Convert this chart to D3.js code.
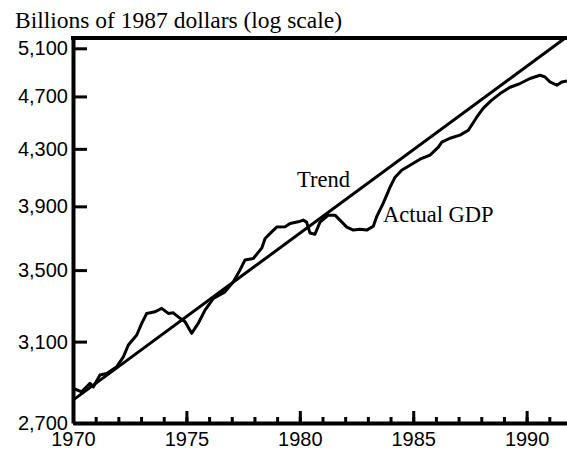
<!DOCTYPE html>
<html>
<head>
<meta charset="utf-8">
<script src="https://cdn.jsdelivr.net/npm/d3@7/dist/d3.min.js"></script>
<style>
body { margin: 0; background: #fff; }
</style>
</head>
<body>
<div id="canvas"></div>
<script>
// actual GDP (year, billions of 1987 dollars)
let years = [1970.00, 1970.38, 1970.75, 1970.90, 1971.19, 1971.49, 1971.93, 1972.22, 1972.44, 1972.81,
    1973.03, 1973.25, 1973.62, 1973.91, 1974.20, 1974.42, 1974.64, 1974.94, 1975.23, 1975.52,
    1975.82, 1976.19, 1976.70, 1977.07, 1977.36, 1977.58, 1977.95, 1978.32, 1978.47, 1978.76,
    1978.98, 1979.35, 1979.57, 1979.93, 1980.15, 1980.30, 1980.45, 1980.67, 1980.89, 1981.26,
    1981.55, 1981.77, 1982.07, 1982.36, 1982.65, 1982.95, 1983.24, 1983.40, 1983.68, 1983.98,
    1984.20, 1984.49, 1984.86, 1985.30, 1985.74, 1986.11, 1986.26, 1986.62, 1987.06, 1987.43,
    1987.80, 1988.09, 1988.46, 1988.83, 1989.27, 1989.71, 1990.15, 1990.59, 1990.81, 1991.03,
    1991.33, 1991.55, 1991.78]
let gdp = [2864, 2847, 2888, 2871, 2929, 2937, 2971, 3021, 3082, 3135,
    3197, 3252, 3261, 3280, 3252, 3255, 3233, 3206, 3144, 3197,
    3270, 3336, 3373, 3431, 3500, 3560, 3570, 3633, 3693, 3735,
    3765, 3767, 3788, 3799, 3810, 3797, 3727, 3720, 3797, 3842,
    3842, 3810, 3765, 3746, 3752, 3746, 3771, 3836, 3921, 4029,
    4098, 4147, 4182, 4225, 4254, 4312, 4349, 4378, 4401, 4438,
    4537, 4607, 4670, 4723, 4774, 4804, 4845, 4872, 4858, 4817,
    4790, 4817, 4825]

// trend line (straight on a log scale)
let trendYears = [1970, 1991.7]
let trendGdp = [2807, 5190]

let yTicks = [2700, 3100, 3500, 3900, 4300, 4700, 5100]
let xTicks = [1970, 1975, 1980, 1985, 1990]
let xMinor = d3.range(1971, 1992)

let svg = d3.select('#canvas').append('svg')
    .attr('width', 567)
    .attr('height', 450)
    .style('display', 'block')

let xScale = d3.scaleLinear()
    .domain([1970, 1991.78])
    .range([73, 567])
let yScale = d3.scaleLog()
    .domain([2700, 5190])
    .range([423, 38])

// title
svg.append('text')
    .attr('x', 15)
    .attr('y', 28)
    .style('font-family', '"Liberation Serif", "Times New Roman", serif')
    .style('font-size', '23.5px')
    .text('Billions of 1987 dollars (log scale)')

// minor year ticks on the x axis
svg.append('g')
    .attr('transform', `translate(0, ${yScale.range()[0]})`)
    .call(d3.axisBottom(xScale).tickValues(xMinor).tickSizeInner(-6).tickSizeOuter(0).tickFormat(''))
    .call(g => g.select('.domain').remove())
    .call(g => g.selectAll('line').attr('stroke-width', 3))

let xAxis = d3.axisBottom(xScale)
    .tickValues(xTicks)
    .tickSizeInner(-12)
    .tickSizeOuter(0)
    .tickPadding(9)
    .tickFormat(d3.format('d'))
let yAxis = d3.axisLeft(yScale)
    .tickValues(yTicks)
    .tickSizeInner(-14)
    .tickSizeOuter(0)
    .tickPadding(5)
    .tickFormat(d3.format(','))

svg.append('g').attr('class', 'axis')
    .attr('transform', `translate(0, ${yScale.range()[0]})`)
    .call(xAxis)

svg.append('g').attr('class', 'axis')
    .attr('transform', `translate(${xScale.range()[0]}, 0)`)
    .call(yAxis)

svg.selectAll('.axis .domain').attr('stroke-width', 4)
svg.selectAll('.axis line').attr('stroke-width', 3)
svg.selectAll('.axis text')
    .style('font-family', '"Liberation Sans", Arial, sans-serif')
    .style('font-size', '20px')
    .attr('fill', '#000')

// top frame line
svg.append('line')
    .attr('x1', xScale.range()[0] - 2)
    .attr('x2', xScale.range()[1])
    .attr('y1', yScale.range()[1])
    .attr('y2', yScale.range()[1])
    .attr('stroke', '#000')
    .attr('stroke-width', 4)

let line = d3.line()
    .x(d => xScale(d[0]))
    .y(d => yScale(d[1]))

svg.append('path')
    .datum(trendYears.map((y, i) => [y, trendGdp[i]]))
    .attr('d', line)
    .attr('fill', 'none')
    .attr('stroke', '#000')
    .attr('stroke-width', 3)

svg.append('path')
    .datum(years.map((y, i) => [y, gdp[i]]))
    .attr('d', line)
    .attr('fill', 'none')
    .attr('stroke', '#000')
    .attr('stroke-width', 3)
    .attr('stroke-linejoin', 'round')

// labels on the lines
svg.append('text')
    .attr('x', 297)
    .attr('y', 187)
    .style('font-family', '"Liberation Serif", "Times New Roman", serif')
    .style('font-size', '22.5px')
    .text('Trend')
svg.append('text')
    .attr('x', 383)
    .attr('y', 222)
    .style('font-family', '"Liberation Serif", "Times New Roman", serif')
    .style('font-size', '22.5px')
    .text('Actual GDP')
</script>
</body>
</html>
